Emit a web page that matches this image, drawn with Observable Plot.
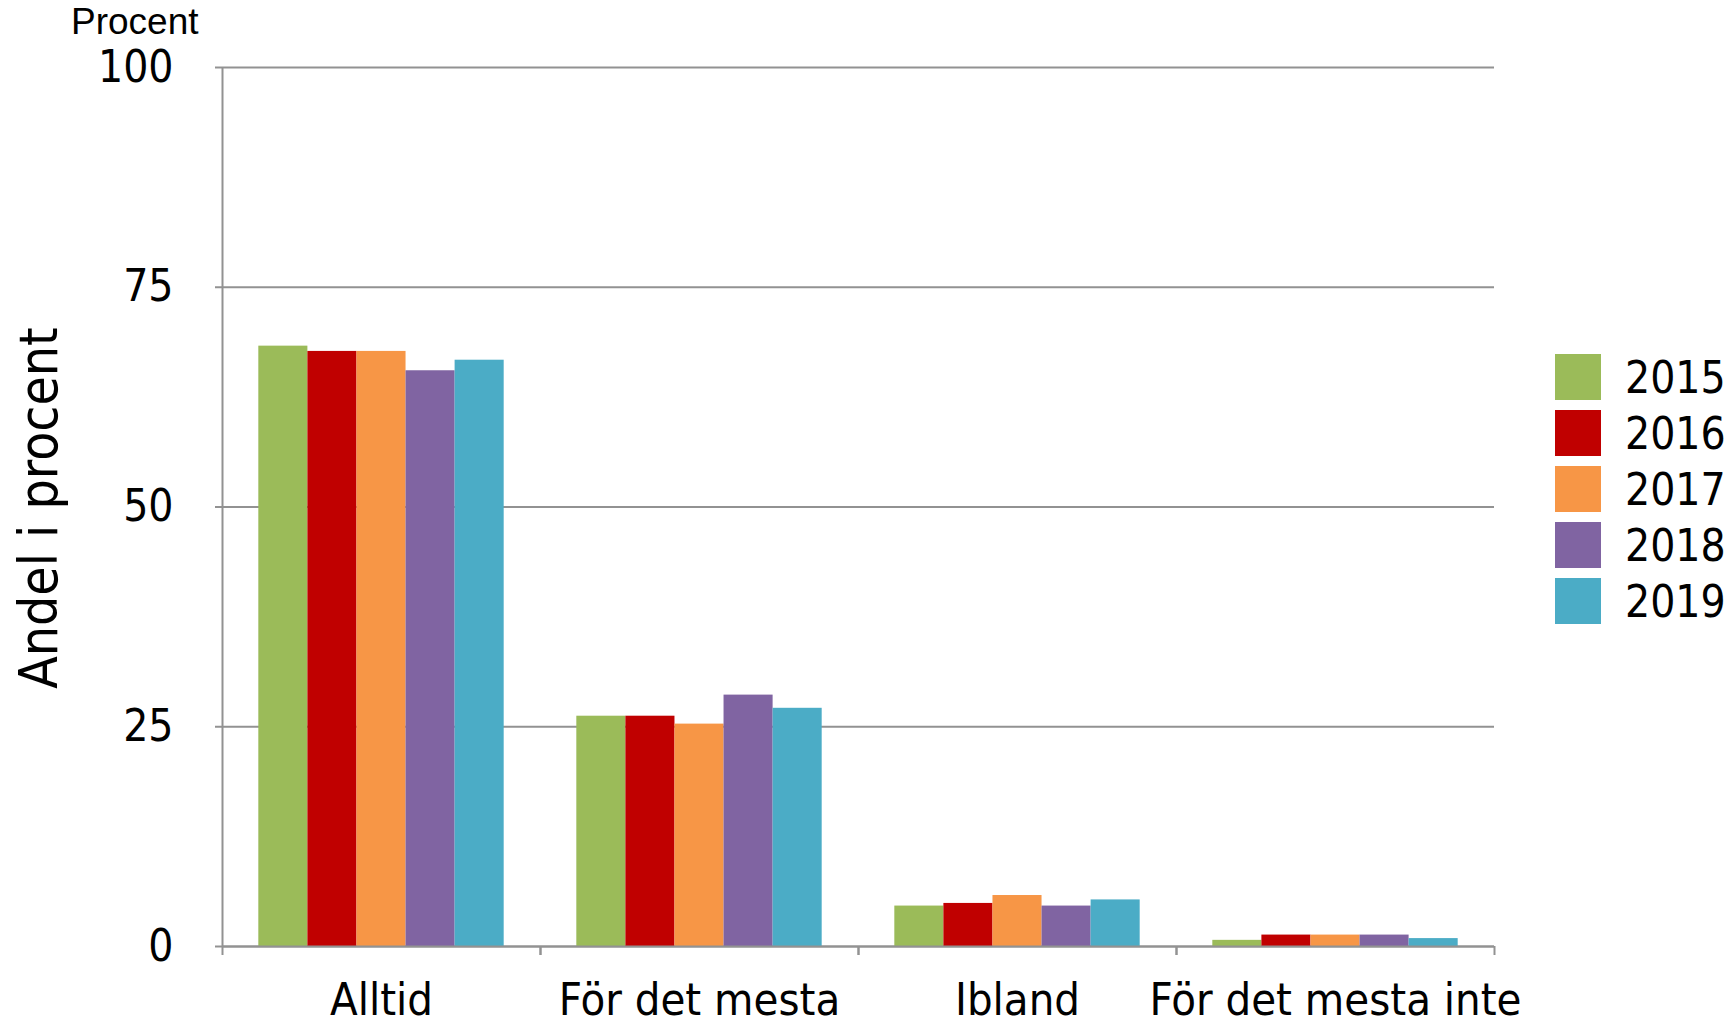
<!DOCTYPE html>
<html>
<head>
<meta charset="utf-8">
<script src="https://cdn.jsdelivr.net/npm/d3@7"></script>
<script src="https://cdn.jsdelivr.net/npm/@observablehq/plot@0.6"></script>
<style>
  body { margin: 0; background: #fff; }
  #wrap { position: relative; width: 1732px; height: 1020px; overflow: hidden; background: #fff; }
  #procent { position: absolute; left: 71px; top: 1px; font-family: "Liberation Sans", Arial, sans-serif; font-size: 37px; line-height: 42px; color: #000; }
  #ytitle { position: absolute; left: 38px; top: 508px; transform: translate(-50%, -50%) rotate(-90deg); white-space: nowrap;
            font-family: "DejaVu Sans Condensed", "DejaVu Sans", sans-serif; font-size: 53px; color: #000; }
  #legend { position: absolute; left: 1555px; top: 349px; font-family: "DejaVu Sans Condensed", "DejaVu Sans", sans-serif; font-size: 44px; color: #000; }
  .item { display: flex; align-items: center; height: 56px; }
  .sw { width: 46px; height: 46px; margin-right: 24px; }
</style>
</head>
<body>
<div id="wrap">
  <div id="chart"></div>
  <div id="procent"></div>
  <div id="ytitle"></div>
  <div id="legend"></div>
</div>
<script>
const categories = ["Alltid", "För det mesta", "Ibland", "För det mesta inte"];
const years = [2015, 2016, 2017, 2018, 2019];
const colors = ["#9BBB59", "#C00000", "#F79646", "#8064A2", "#4BACC6"];
const v2015 = [68.3, 26.2, 4.6, 0.7];
const v2016 = [67.7, 26.2, 4.9, 1.3];
const v2017 = [67.7, 25.3, 5.8, 1.3];
const v2018 = [65.5, 28.6, 4.6, 1.3];
const v2019 = [66.7, 27.1, 5.3, 0.9];
const yTicks = [0, 25, 50, 75, 100];
const yUnit = "Procent";
const yTitle = "Andel i procent";

const series = [v2015, v2016, v2017, v2018, v2019];
const table = [];
categories.forEach((c, ci) => {
  years.forEach((y, yi) => table.push({category: c, year: y, value: series[yi][ci]}));
});

const gray = "#929292";
const xDomain = [years[0] - 0.74, years[years.length - 1] + 1.74];
const fontFam = '"DejaVu Sans Condensed", "DejaVu Sans", sans-serif';

const chart = Plot.plot({
  width: 1732,
  height: 1020,
  marginLeft: 221,
  marginRight: 238,
  marginTop: 67,
  marginBottom: 74,
  style: {fontFamily: fontFam, background: "transparent", color: "#000"},
  fx: {domain: categories, padding: 0, axis: null, label: null},
  x: {domain: xDomain, axis: null},
  y: {domain: [0, 100], axis: null},
  color: {type: "ordinal", domain: years, range: colors},
  marks: [
    Plot.gridY(yTicks, {stroke: gray, strokeOpacity: 1, strokeWidth: 2}),
    Plot.axisY(yTicks, {anchor: "left", tickSize: 7, tickPadding: 42, stroke: gray, strokeWidth: 2, strokeOpacity: 1, fontSize: 44, fontFamily: fontFam, label: null}),
    Plot.ruleX([categories[0]], {fx: d => d, x: () => xDomain[0], y1: 0, y2: 100, stroke: gray, strokeWidth: 2}),
    Plot.rectY(table, {fx: "category", x: "year", interval: 1, y: "value", fill: "year", inset: 0, insetLeft: 0, insetRight: 0}),
    Plot.ruleY([0], {stroke: gray, strokeWidth: 2}),
    Plot.ruleX(categories, {fx: d => d, x: () => xDomain[0], y1: 0, y2: 0, insetBottom: -9, stroke: gray, strokeWidth: 2}),
    Plot.ruleX(categories, {fx: d => d, x: () => xDomain[1], y1: 0, y2: 0, insetBottom: -9, stroke: gray, strokeWidth: 2}),
    Plot.axisFx({anchor: "bottom", tickSize: 0, tickPadding: 37, fontSize: 45, fontFamily: fontFam, label: null})
  ]
});
document.getElementById("chart").appendChild(chart);
document.getElementById("procent").textContent = yUnit;
document.getElementById("ytitle").textContent = yTitle;

const legend = document.getElementById("legend");
years.forEach((y, i) => {
  const item = document.createElement("div");
  item.className = "item";
  const sw = document.createElement("div");
  sw.className = "sw";
  sw.style.background = colors[i];
  const t = document.createElement("span");
  t.textContent = String(y);
  item.appendChild(sw);
  item.appendChild(t);
  legend.appendChild(item);
});
</script>
</body>
</html>
